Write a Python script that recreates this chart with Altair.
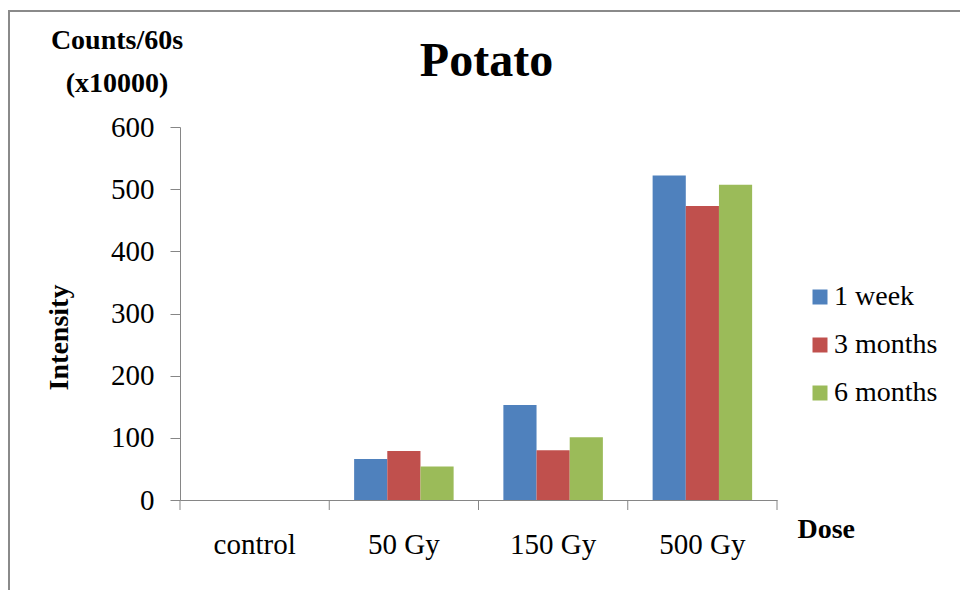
import altair as alt
import pandas as pd

doses = ["control", "50 Gy", "150 Gy", "500 Gy"]
series = ["1 week", "3 months", "6 months"]
week1 = [0, 66, 153, 522]
months3 = [0, 79, 80, 473]
months6 = [0, 54, 101, 507]
colors = ["#4F81BD", "#C0504D", "#9BBB59"]
yticks = [0, 100, 200, 300, 400, 500, 600]

rows = []
for s, vals in zip(series, [week1, months3, months6]):
    for d, v in zip(doses, vals):
        rows.append({"Dose": d, "Series": s, "Intensity": v})
df = pd.DataFrame(rows)
dose_df = pd.DataFrame({"Dose": doses})
one = pd.DataFrame({"a": [0]})

W, H = 597, 373
FONT = "Liberation Serif"
AX = "#868686"

xscale = alt.Scale(domain=doses, paddingInner=0, paddingOuter=0)
xaxis = alt.Axis(title="Dose", labelAngle=0, ticks=False, labelPadding=30,
                 domainColor=AX, labelFont=FONT, labelFontSize=29,
                 labelColor="black", titleX=617, titleY=37, titleAlign="left",
                 titleBaseline="alphabetic", titleFont=FONT, titleFontSize=28,
                 titleFontWeight="bold", titleColor="black")

bars = alt.Chart(df).mark_bar().encode(
    x=alt.X("Dose:N", sort=doses, scale=xscale, axis=xaxis),
    xOffset=alt.XOffset("Series:N", sort=series,
                        scale=alt.Scale(domain=series, paddingOuter=0.75, paddingInner=0)),
    y=alt.Y("Intensity:Q", scale=alt.Scale(domain=[0, 600], nice=False),
            axis=alt.Axis(values=yticks, grid=False, tickSize=10, labelPadding=16,
                          domainColor=AX, tickColor=AX, labelFont=FONT, labelFontSize=29,
                          labelColor="black", title="Intensity", titleFont=FONT,
                          titleFontSize=28, titleFontWeight="bold", titleColor="black",
                          titleX=-113, titleY=210, titleAngle=270, titleAlign="center",
                          titleBaseline="alphabetic")),
    color=alt.Color("Series:N", sort=series,
                    scale=alt.Scale(domain=series, range=colors),
                    legend=alt.Legend(title=None, orient="none", legendX=626, legendY=156,
                                      symbolType="square", symbolSize=225,
                                      symbolStrokeWidth=0, labelFont=FONT, labelFontSize=28,
                                      labelColor="black", rowPadding=20, labelOffset=0,
                                      padding=0)),
)

xticks = alt.Chart(dose_df).mark_rule(color=AX, strokeWidth=1).encode(
    x=alt.X("Dose:N", sort=doses, scale=xscale, bandPosition=0, axis=xaxis),
    y=alt.value(H), y2=alt.value(H + 10),
)
end_tick = alt.Chart(one).mark_rule(color=AX, strokeWidth=1).encode(
    x=alt.value(W), y=alt.value(H), y2=alt.value(H + 10),
)

frame_left = alt.Chart(one).mark_rule(color="#8a8a8a", strokeWidth=2).encode(
    x=alt.value(-171), y=alt.value(-116), y2=alt.value(H + 95),
)
frame_top = alt.Chart(one).mark_rule(color="#8a8a8a", strokeWidth=2).encode(
    x=alt.value(-172), x2=alt.value(960 - 180), y=alt.value(-116),
)

counts = alt.Chart(one).mark_text(
    align="center", baseline="alphabetic", font=FONT, fontSize=28,
    fontWeight="bold", lineHeight=43, color="black",
).encode(
    x=alt.value(-63), y=alt.value(-78), text=alt.value(["Counts/60s", "(x10000)"]),
)

chart = alt.layer(bars, xticks, end_tick, frame_left, frame_top, counts).properties(
    width=W, height=H,
    title=alt.TitleParams("Potato", font=FONT, fontSize=48, fontWeight="bold",
                          color="black", anchor="middle", frame="group", dx=8,
                          baseline="alphabetic", offset=-114),
    autosize=alt.AutoSizeParams(type="none"),
    padding={"left": 180, "top": 127, "right": 183, "bottom": 90},
    background="white",
).configure_view(stroke=None)

chart.save("out.html", embed_options={"renderer": "svg", "actions": False})
